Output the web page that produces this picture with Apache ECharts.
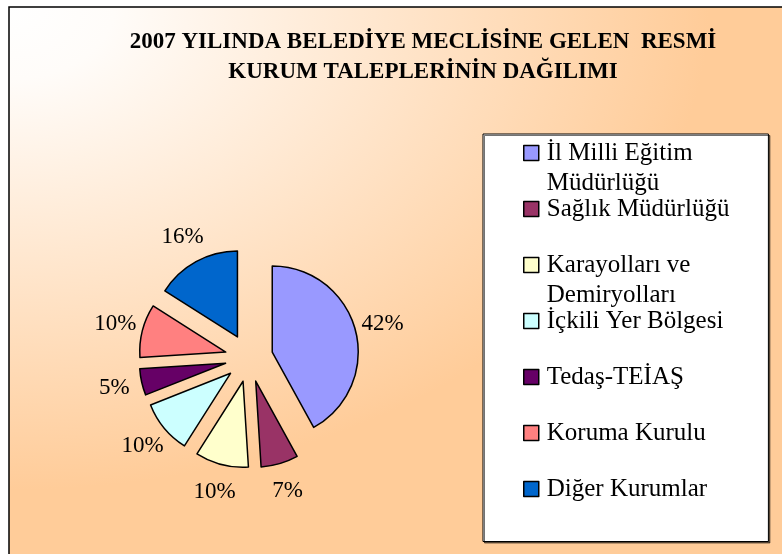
<!DOCTYPE html>
<html>
<head>
<meta charset="utf-8">
<script src="https://cdn.jsdelivr.net/npm/echarts@6/dist/echarts.min.js"></script>
<style>
  html, body { margin: 0; padding: 0; background: #fff; }
  #chart { width: 782px; height: 554px; }
</style>
</head>
<body>
<div id="chart"></div>
<script>
// chart data
const categories = [
  'İl Milli Eğitim\nMüdürlüğü',
  'Sağlık Müdürlüğü',
  'Karayolları ve\nDemiryolları',
  'İçkili Yer Bölgesi',
  'Tedaş-TEİAŞ',
  'Koruma Kurulu',
  'Diğer Kurumlar'
];
const shares = [42, 7, 10, 10, 5, 10, 16];
const sliceColors = ['#9999FF', '#993366', '#FFFFCC', '#CCFFFF', '#660066', '#FF8080', '#0066CC'];
const titleText = '2007 YILINDA BELEDİYE MECLİSİNE GELEN  RESMİ\nKURUM TALEPLERİNİN DAĞILIMI';

const serif = '"Liberation Serif", "DejaVu Serif", serif';
const pieCenter = [249, 358];

const chart = echarts.init(document.getElementById('chart'));

const sliceData = categories.map((name, i) => ({
  name: name,
  value: shares[i],
  selected: true,
  itemStyle: { color: sliceColors[i] }
}));

chart.setOption({
  backgroundColor: '#fff',
  animation: false,
  graphic: [
    {
      // gradient plot area, white at the top-left corner to peach
      type: 'rect',
      x: 9, y: 7,
      scaleY: 0.69,
      z: -2,
      silent: true,
      shape: { x: 0, y: 0, width: 800, height: 850 },
      style: {
        fill: {
          type: 'radial', x: 0, y: 0, r: 0.875,
          colorStops: [
            { offset: 0, color: '#FFFFFF' },
            { offset: 0.15, color: '#FFFCF9' },
            { offset: 1, color: '#FFCC99' }
          ]
        }
      }
    },
    {
      type: 'rect',
      z: -1,
      silent: true,
      shape: { x: 9, y: 7, width: 900, height: 700 },
      style: { fill: 'none', stroke: '#000', lineWidth: 1.5 }
    }
  ],
  title: {
    text: titleText,
    left: 423,
    top: 27,
    padding: 0,
    textAlign: 'center',
    textStyle: {
      fontFamily: serif,
      fontSize: 23,
      fontWeight: 'bold',
      color: '#000',
      lineHeight: 30
    }
  },
  legend: {
    orient: 'vertical',
    left: 483,
    top: 134,
    height: 420,
    padding: [4, 39, 10, 40],
    itemWidth: 15,
    itemHeight: 15,
    itemGap: -1.5,
    icon: 'rect',
    selectedMode: false,
    data: categories,
    itemStyle: { borderColor: '#000', borderWidth: 1.5 },
    backgroundColor: '#fff',
    borderColor: '#000',
    borderWidth: 1,
    shadowColor: 'rgba(0,0,0,0.55)',
    shadowOffsetX: 1.5,
    shadowOffsetY: 1.5,
    shadowBlur: 0,
    formatter: function (name) {
      // every entry two lines tall, so the rows stay evenly spaced
      return name.indexOf('\n') >= 0 ? name : name + '\n\u00a0';
    },
    textStyle: {
      fontFamily: serif,
      fontSize: 25,
      color: '#000',
      lineHeight: 30,
      height: 30,
      padding: [0, 0, 0, 3],
      rich: { x: {} }
    }
  },
  series: [
    {
      type: 'pie',
      center: pieCenter,
      radius: 86,
      startAngle: 90,
      clockwise: true,
      selectedMode: 'multiple',
      selectedOffset: 24,
      avoidLabelOverlap: false,
      label: { show: false },
      labelLine: { show: false },
      itemStyle: { borderColor: '#000', borderWidth: 1.5 },
      emphasis: { disabled: true },
      data: sliceData
    },
    {
      // percentage labels around the pie
      type: 'pie',
      center: pieCenter,
      radius: [125, 145],
      startAngle: 90,
      clockwise: true,
      silent: true,
      avoidLabelOverlap: false,
      itemStyle: { color: 'transparent', borderWidth: 0 },
      emphasis: { disabled: true },
      labelLine: { show: false },
      label: {
        position: 'inside',
        fontFamily: serif,
        fontSize: 23,
        color: '#000',
        formatter: function (p) { return Math.round(p.percent) + '%'; }
      },
      data: categories.map((name, i) => ({ name: name, value: shares[i] }))
    }
  ]
});
</script>
</body>
</html>
